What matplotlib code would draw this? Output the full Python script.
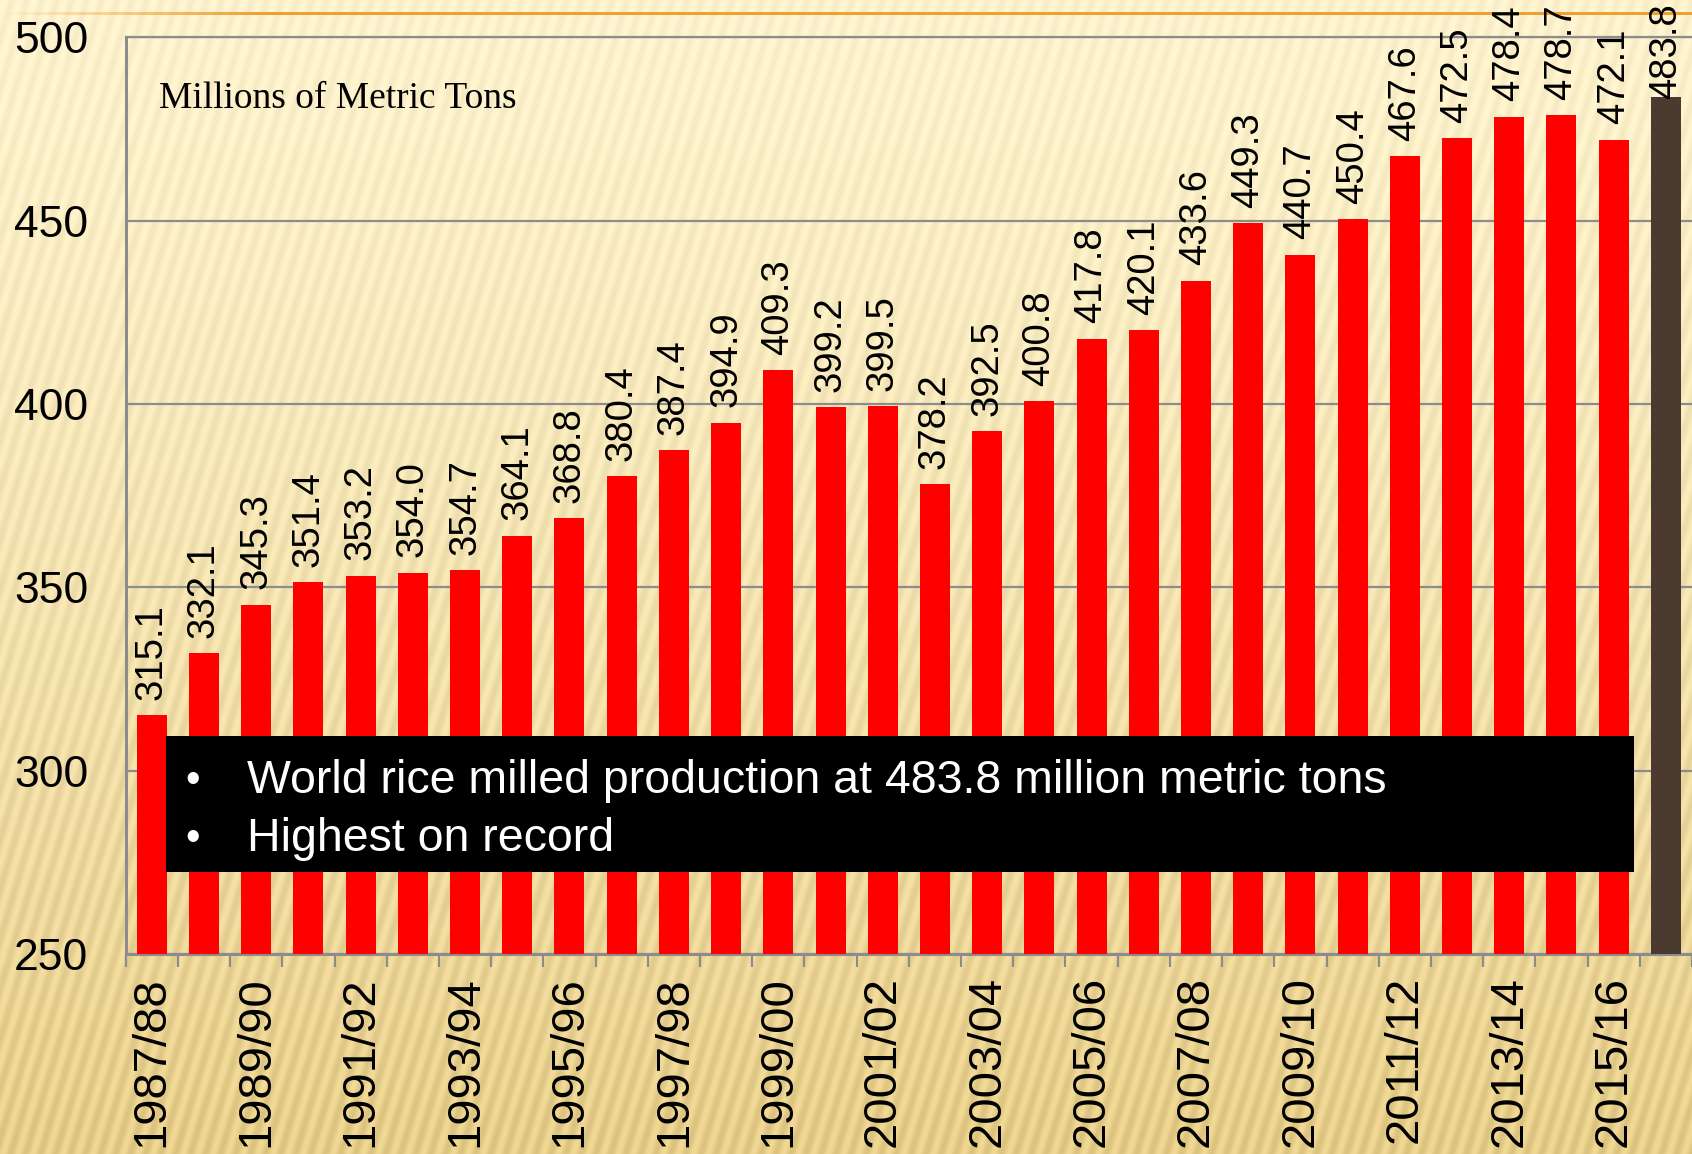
import matplotlib
matplotlib.use("Agg")
import matplotlib.pyplot as plt
import numpy as np
from matplotlib.patches import Rectangle

plt.rcParams['font.family'] = ['Liberation Sans', 'DejaVu Sans']

years = ['1987/88', '1988/89', '1989/90', '1990/91', '1991/92', '1992/93',
         '1993/94', '1994/95', '1995/96', '1996/97', '1997/98', '1998/99',
         '1999/00', '2000/01', '2001/02', '2002/03', '2003/04', '2004/05',
         '2005/06', '2006/07', '2007/08', '2008/09', '2009/10', '2010/11',
         '2011/12', '2012/13', '2013/14', '2014/15', '2015/16', '2016/17']
production = [315.1, 332.1, 345.3, 351.4, 353.2, 354.0, 354.7, 364.1, 368.8,
              380.4, 387.4, 394.9, 409.3, 399.2, 399.5, 378.2, 392.5, 400.8,
              417.8, 420.1, 433.6, 449.3, 440.7, 450.4, 467.6, 472.5, 478.4,
              478.7, 472.1, 483.8]
y_ticks = [250, 300, 350, 400, 450, 500]
unit_label = 'Millions of Metric Tons'
notes = ['World rice milled production at 483.8 million metric tons',
         'Highest on record']

W, H = 1692, 1154
fig = plt.figure(figsize=(W / 100, H / 100), dpi=100)

# textured slide background (cream to tan with thin diagonal streaks)
bg = fig.add_axes([0, 0, 1, 1], zorder=-10)
rows = np.arange(H)[:, None]
cols = np.arange(W)[None, :]
t = (rows / H) ** 1.3
top_col = np.array([253, 242, 205]) / 255
bot_col = np.array([230, 205, 136]) / 255
img = top_col + (bot_col - top_col) * t[..., None]
streaks = np.sin(2 * np.pi * (cols + 0.3 * rows) / 15.0)
img = img + (0.022 + 0.022 * t[..., None]) * streaks[..., None]
# thin orange rule at the top, fading in from the left
fade = np.clip(cols / 260.0, 0, 1)[..., None]
orange = np.array([240, 160, 50]) / 255
img[12:15] = img[12:15] * (1 - fade) + orange * fade
bg.imshow(np.clip(img, 0, 1), aspect='auto', extent=(0, 1, 0, 1))
bg.axis('off')

left = 125.7 / W
bottom = (H - 954) / H
ax = fig.add_axes([left, bottom, 1 - left, (954 - 37.3) / H])
ax.patch.set_alpha(0)

x = np.arange(len(years))
colors = ['#ff0000'] * (len(years) - 1) + ['#4b3a2f']
ax.bar(x, production, width=0.575, color=colors, zorder=3)

ax.set_xlim(-0.5, len(years) - 0.5)
ax.set_ylim(250, 500)
ax.set_yticks(y_ticks)
ax.yaxis.grid(True, color='#8c8c8c', linewidth=1.6, zorder=0)
ax.set_axisbelow(True)

for side in ['left', 'bottom', 'top']:
    ax.spines[side].set_color('#8c8c8c')
    ax.spines[side].set_linewidth(2.2)
ax.spines['top'].set_linewidth(1.6)
ax.spines['right'].set_visible(False)

ax.tick_params(axis='y', length=0, pad=27, labelsize=32)
ax.set_xticks(x[::2])
ax.set_xticklabels(years[::2], rotation=90, fontsize=34)
ax.tick_params(axis='x', which='major', length=0, pad=16)
ax.set_xticks(np.arange(-0.5, len(years), 1), minor=True)
ax.tick_params(axis='x', which='minor', length=9.5, width=1.6,
               color='#8c8c8c', direction='out')

for i, v in enumerate(production):
    off = 11 if i < len(production) - 1 else -2
    ax.annotate(f'{v:.1f}', (i, v), xytext=(0, off), textcoords='offset points',
                rotation=90, ha='center', va='bottom', fontsize=27.5, zorder=5)

ax.text(0.0213, 0.923, unit_label, transform=ax.transAxes, fontsize=27,
        family=['Liberation Serif', 'DejaVu Serif'], va='baseline')

# black call-out box over the bars
fig.add_artist(Rectangle((166 / W, 1 - 872 / H), (1634 - 166) / W, 136 / H,
                         transform=fig.transFigure, facecolor='black',
                         edgecolor='none', zorder=10))
for k, line in enumerate(notes):
    yy = 1 - (781 + 58 * k) / H
    fig.text(193 / W, yy, '\u2022', color='white', fontsize=30, ha='center',
             va='center', zorder=11)
    fig.text(247 / W, yy, line, color='white', fontsize=33.5, va='center',
             family=['Liberation Sans Narrow', 'Liberation Sans', 'DejaVu Sans'],
             zorder=11)

fig.savefig('out.png', dpi=100)
